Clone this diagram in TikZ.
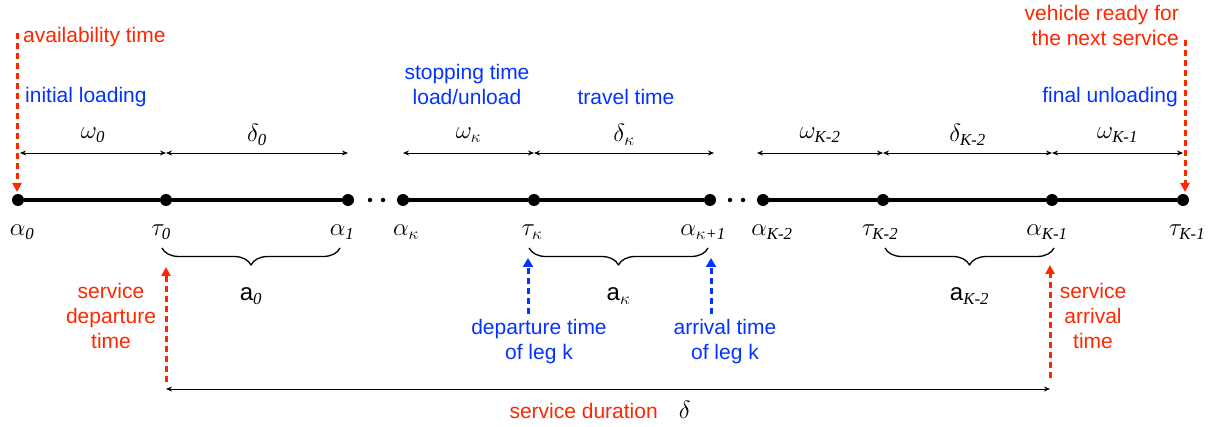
\documentclass[tikz,border=0pt]{standalone}
\usepackage{amsmath}
\usepackage{fontspec}
\setmainfont{Liberation Sans}
\newfontfamily\subfont{Liberation Serif}
\usetikzlibrary{arrows.meta,decorations.pathreplacing,positioning}
\definecolor{labred}{RGB}{255,38,0}
\definecolor{labblue}{RGB}{4,51,255}
\newcommand\sbs[1]{\text{\subfont\itshape #1}}
\tikzset{
	dot/.style={circle,fill,inner sep=0pt,minimum size=12pt},
	gapdot/.style={circle,fill,inner sep=0pt,minimum size=4.5pt},
	timeline/.style={line width=3.4pt},
	dim/.style={{Stealth[length=6pt,width=5pt]}-{Stealth[length=6pt,width=5pt]},line width=0.9pt},
	greek/.style={inner sep=1pt,font=\fontsize{24}{28}\selectfont},
	redtext/.style={inner sep=1pt,text=labred},
	bluetext/.style={inner sep=1pt,text=labblue},
	redcall/.style={labred,line width=3pt,dash pattern=on 6pt off 4pt,-{Triangle[length=9pt,width=9pt]}},
	bluecall/.style={labblue,line width=3pt,dash pattern=on 6pt off 4pt,-{Triangle[length=9pt,width=10pt]}},
	legbrace/.style={decorate,decoration={brace,mirror,amplitude=17pt},line width=1.3pt}
}
\begin{document}
\begin{tikzpicture}[x=1pt,y=-1pt,line join=round,font=\fontsize{21}{25}\selectfont]
			\useasboundingbox (0,0) rectangle (1217,427);
			\def\ymain{200} \def\ydim{153} \def\ylab{232} \def\ybr{248}
			% time line
			\node[dot] (a0) at (18,\ymain) {};
			\node[dot] (t0) at (166,\ymain) {};
			\node[dot] (a1) at (348,\ymain) {};
			\node[gapdot] (g1) at (370,\ymain) {};
			\node[gapdot] (g2) at (383,\ymain) {};
			\node[dot] (ak) at (403,\ymain) {};
			\node[dot] (tk) at (534,\ymain) {};
			\node[dot] (ak1) at (710,\ymain) {};
			\node[gapdot] (g3) at (730,\ymain) {};
			\node[gapdot] (g4) at (743,\ymain) {};
			\node[dot] (aK2) at (763,\ymain) {};
			\node[dot] (tK2) at (883,\ymain) {};
			\node[dot] (aK1) at (1052,\ymain) {};
			\node[dot] (tK1) at (1183,\ymain) {};
			\draw[timeline] (a0)--(t0)--(a1);
			\draw[timeline] (ak)--(tk)--(ak1);
			\draw[timeline] (aK2)--(tK2)--(aK1)--(tK1);
			\node[greek] (la0) at (22,\ylab) {$\alpha_{\sbs{0}}$};
			\node[greek] (lt0) at (161,\ylab) {$\tau_{\sbs{0}}$};
			\node[greek] (la1) at (342,\ylab) {$\alpha_{\sbs{1}}$};
			\node[greek] (lak) at (406,\ylab) {$\alpha_\kappa$};
			\node[greek] (ltk) at (532,\ylab) {$\tau_\kappa$};
			\node[greek] (lak1) at (703,\ylab) {$\alpha_{\kappa\sbs{+1}}$};
			\node[greek] (laK2) at (772,\ylab) {$\alpha_{\sbs{K-2}}$};
			\node[greek] (ltK2) at (880,\ylab) {$\tau_{\sbs{K-2}}$};
			\node[greek] (laK1) at (1047,\ylab) {$\alpha_{\sbs{K-1}}$};
			\node[greek] (ltK1) at (1187,\ylab) {$\tau_{\sbs{K-1}}$};
			% durations
			\coordinate (d0) at (20,\ydim); \coordinate (d1) at (166,\ydim); \coordinate (d2) at (348,\ydim);
			\coordinate (d3) at (403,\ydim); \coordinate (d4) at (534,\ydim); \coordinate (d5) at (714,\ydim);
			\coordinate (d6) at (757,\ydim); \coordinate (d7) at (883,\ydim); \coordinate (d8) at (1052,\ydim);
			\coordinate (d9) at (1183,\ydim);
			\draw[dim] (d0)-- node[greek,midway,yshift=18pt]{$\omega_{\sbs{0}}$} (d1);
			\draw[dim] (d1)-- node[greek,midway,yshift=18pt]{$\delta_{\sbs{0}}$} (d2);
			\draw[dim] (d3)-- node[greek,midway,yshift=18pt]{$\omega_\kappa$} (d4);
			\draw[dim] (d4)-- node[greek,midway,yshift=18pt]{$\delta_\kappa$} (d5);
			\draw[dim] (d6)-- node[greek,midway,yshift=18pt]{$\omega_{\sbs{K-2}}$} (d7);
			\draw[dim] (d7)-- node[greek,midway,yshift=18pt]{$\delta_{\sbs{K-2}}$} (d8);
			\draw[dim] (d8)-- node[greek,midway,yshift=18pt]{$\omega_{\sbs{K-1}}$} (d9);
			% legs
			\coordinate (b0) at (162,\ybr); \coordinate (b1) at (340,\ybr);
			\coordinate (b2) at (529,\ybr); \coordinate (b3) at (708,\ybr);
			\coordinate (b4) at (885,\ybr); \coordinate (b5) at (1054,\ybr);
			\draw[legbrace] (b0)-- node[greek,midway,yshift=-48pt]{a$_{\sbs{0}}$} (b1);
			\draw[legbrace] (b2)-- node[greek,midway,yshift=-48pt]{a$_\kappa$} (b3);
			\draw[legbrace] (b4)-- node[greek,midway,yshift=-48pt]{a$_{\sbs{K-2}}$} (b5);
			% top texts
			\node[redtext,anchor=west] (avail) at (22,37) {availability time};
			\node[bluetext,anchor=west] (init) at (24,97) {initial loading};
			\node[bluetext,align=center] (stop) at (467,84) {stopping time\\load/unload};
			\node[bluetext] (travel) at (626,97) {travel time};
			\node[redtext,align=right,anchor=east] (ready) at (1180,25) {vehicle ready for\\the next service};
			\node[bluetext,anchor=east] (final) at (1179,97) {final unloading};
			\coordinate (v0) at (17,33); \coordinate (v1) at (17,192);
			\coordinate (v2) at (1185,40); \coordinate (v3) at (1185,192);
			\draw[redcall] (v0)--(v1);
			\draw[redcall] (v2)--(v3);
			% bottom texts
			\node[redtext,align=center] (sdep) at (111,316) {service\\departure\\time};
			\node[bluetext,align=center] (dep) at (539,342) {departure time\\of leg k};
			\node[bluetext,align=center] (arr) at (725,342) {arrival time\\of leg k};
			\node[redtext,align=center] (sarr) at (1093,316) {service\\arrival\\time};
			\coordinate (c0) at (166,382); \coordinate (c1) at (166,267);
			\coordinate (c2) at (528,314); \coordinate (c3) at (528,258);
			\coordinate (c4) at (711,314); \coordinate (c5) at (711,258);
			\coordinate (c6) at (1050,378); \coordinate (c7) at (1050,265);
			\draw[redcall] (c0)--(c1);
			\draw[bluecall] (c2)--(c3);
			\draw[bluecall] (c4)--(c5);
			\draw[redcall] (c6)--(c7);
			% service duration
			\coordinate (s0) at (166,389); \coordinate (s1) at (1050,389);
			\draw[dim] (s0)--(s1);
			\node (dur) at (600,410) {\textcolor{labred}{service duration}\quad{\fontsize{24}{28}\selectfont$\delta$}};
\end{tikzpicture}
\end{document}
